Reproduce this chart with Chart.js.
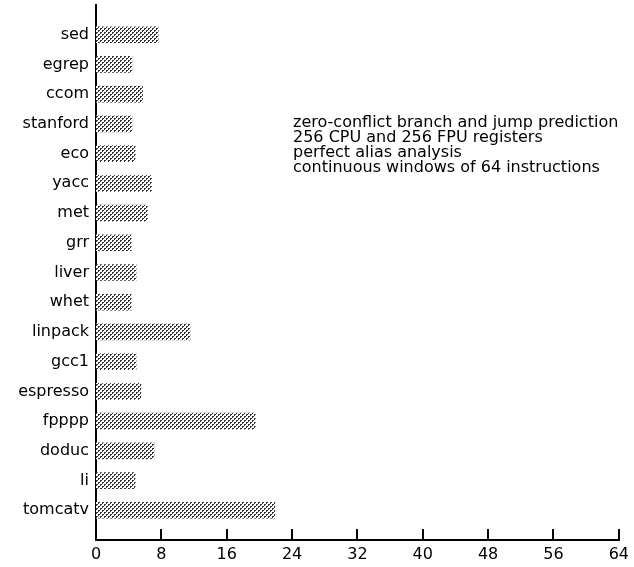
<!DOCTYPE html>
<html>
<head>
<meta charset="utf-8">
<script src="https://cdn.jsdelivr.net/npm/chart.js@4.4.1/dist/chart.umd.min.js"></script>
<style>
  html, body { margin:0; padding:0; background:#fff; }
  #wrap { width:634px; height:567px; }
</style>
</head>
<body>
<div id="wrap"><canvas id="chart" width="634" height="567"></canvas></div>
<script>
// benchmarks, top to bottom
const BENCHMARKS = ['sed','egrep','ccom','stanford','eco','yacc','met','grr','liver','whet',
  'linpack','gcc1','espresso','fpppp','doduc','li','tomcatv'];
// values
const VALUES = [7.6, 4.4, 5.7, 4.4, 4.8, 6.8, 6.3, 4.3, 4.9, 4.3,
  11.5, 4.9, 5.5, 19.5, 7.1, 4.8, 21.9];
const X_TICKS = [0, 8, 16, 24, 32, 40, 48, 56, 64];
const NOTE_LINES = [
  'zero-conflict branch and jump prediction',
  '256 CPU and 256 FPU registers',
  'perfect alias analysis',
  'continuous windows of 64 instructions'
];

const FONT = '"DejaVu Sans", "Liberation Sans", Arial, sans-serif';

// stipple fill like the old laser print
function makeStipple(){
  const c = document.createElement('canvas');
  c.width = 4; c.height = 4;
  const g = c.getContext('2d');
  g.fillStyle = '#ffffff';
  g.fillRect(0,0,4,4);
  g.fillStyle = '#333333';
  g.fillRect(0,0,2,2);
  g.fillRect(2,2,2,2);
  g.fillStyle = '#ffffff';
  g.fillRect(1,1,1,1);
  g.fillRect(3,3,1,1);
  return g.createPattern(c, 'repeat');
}

// ticks drawn upward from the x axis, plus the note text
const extras = {
  id:'extras',
  afterDraw(ch){
    const ctx = ch.ctx;
    const xs = ch.scales.x;
    const yb = ch.chartArea.bottom;
    ctx.save();
    ctx.strokeStyle = '#000';
    ctx.lineWidth = 2;
    X_TICKS.forEach(t => {
      const px = Math.round(xs.getPixelForValue(t));
      ctx.beginPath();
      ctx.moveTo(px, yb - 11);
      ctx.lineTo(px, yb + 1);
      ctx.stroke();
    });
    ctx.fillStyle = '#000';
    ctx.font = '16px ' + FONT;
    ctx.textBaseline = 'middle';
    NOTE_LINES.forEach((s, i) => {
      ctx.fillText(s, 293, 123 + i * 15);
    });
    ctx.restore();
  }
};

const ctx = document.getElementById('chart');
new Chart(ctx, {
  type:'bar',
  data:{
    datasets:[{
      data: VALUES.map((v,i)=>({x:v, y:i})),
      backgroundColor: makeStipple(),
      borderWidth:0,
      barThickness:16
    }]
  },
  options:{
    indexAxis:'y',
    responsive:false,
    animation:false,
    layout:{ padding:{ top:5, right:15, bottom:3, left:0 } },
    plugins:{ legend:{display:false}, tooltip:{enabled:false} },
    scales:{
      x:{
        type:'linear', min:0, max:64,
        afterBuildTicks: s => { s.ticks = X_TICKS.map(v=>({value:v})); },
        afterFit: s => { s.height = 24; },
        grid:{ display:false, drawTicks:false },
        border:{ display:true, color:'#000', width:2 },
        ticks:{ color:'#000', font:{ family:FONT, size:16 }, padding:5, maxRotation:0 }
      },
      y:{
        type:'linear', min:-1, max:17, reverse:true, offset:false,
        afterBuildTicks: s => { s.ticks = BENCHMARKS.map((b,i)=>({value:i})); },
        afterFit: s => { s.width = 96; s.paddingTop = 0; s.paddingBottom = 0; },
        grid:{ display:false, drawTicks:false, offset:false },
        border:{ display:true, color:'#000', width:2 },
        ticks:{ color:'#000', font:{ family:FONT, size:16 }, padding:7, autoSkip:false,
          callback: v => BENCHMARKS[v] ?? '' }
      }
    }
  },
  plugins:[extras]
});
</script>
</body>
</html>
